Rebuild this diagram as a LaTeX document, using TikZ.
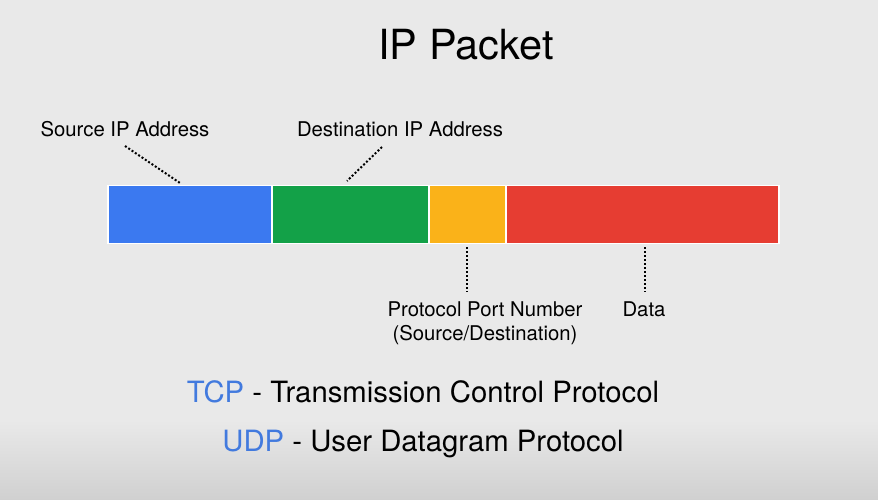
\documentclass[tikz,border=0pt]{standalone}
\usepackage{fontspec}
\setmainfont{TeX Gyre Heros}
\usepackage{tikz}
\usetikzlibrary{positioning}
\tikzstyle{field}=[draw=white,line width=1.5pt,rectangle,minimum height=58pt,inner sep=0pt]
\tikzstyle{label}=[font=\fontsize{20.3}{22}\selectfont,anchor=base,inner sep=0pt]
\tikzstyle{proto}=[font=\fontsize{29.3}{32}\selectfont,anchor=base,inner sep=0pt]
\tikzstyle{leader}=[line width=2pt,dash pattern=on 2pt off 2pt]
\definecolor{bgray}{RGB}{233,233,233}
\definecolor{bdark}{RGB}{208,208,208}
\definecolor{srcblue}{RGB}{59,121,240}
\definecolor{dstgreen}{RGB}{19,161,72}
\definecolor{portyellow}{RGB}{250,178,25}
\definecolor{datared}{RGB}{230,61,50}
\definecolor{tcpblue}{RGB}{66,122,222}

\begin{document}
\begin{tikzpicture}[x=1pt,y=-1pt]
\useasboundingbox (0,0) rectangle (878,500);
\fill[bgray] (0,0) rectangle (878,420);
\shade[top color=bgray,bottom color=bdark] (0,420) rectangle (878,500);
\draw (466,60) node [anchor=base,inner sep=0pt,font=\fontsize{41.5}{44}\selectfont] (title) {IP Packet};
% the packet
\draw (190,214.5) node [field,fill=srcblue,minimum width=164pt] (src) {};
\draw (350.5,214.5) node [field,fill=dstgreen,minimum width=157pt] (dst) {};
\draw (467.5,214.5) node [field,fill=portyellow,minimum width=77pt] (port) {};
\draw (642.5,214.5) node [field,fill=datared,minimum width=273pt] (data) {};
% labels
\draw (125,137) node [label] (srclbl) {Source IP Address};
\draw (400,137) node [label] (dstlbl) {Destination IP Address};
\draw (485,316) node [label] (portlbl) {Protocol Port Number};
\draw (485,340) node [label] (portlbl2) {(Source/Destination)};
\draw (644,316) node [label] (datalbl) {Data};
\coordinate (s1) at (125,146);
\coordinate (s2) at (180,183);
\coordinate (d1) at (382,147);
\coordinate (d2) at (347,181);
\coordinate (p1) at (467,247);
\coordinate (p2) at (467,292);
\coordinate (q1) at (645,247);
\coordinate (q2) at (645,292);
\draw[leader] (s1) -- (s2);
\draw[leader] (d1) -- (d2);
\draw[leader] (p1) -- (p2);
\draw[leader] (q1) -- (q2);
% protocols
\draw (423,402) node [proto] (tcp) {\textcolor{tcpblue}{TCP} - Transmission Control Protocol};
\draw (423,451) node [proto] (udp) {\textcolor{tcpblue}{UDP} - User Datagram Protocol};
\end{tikzpicture}
\end{document}
